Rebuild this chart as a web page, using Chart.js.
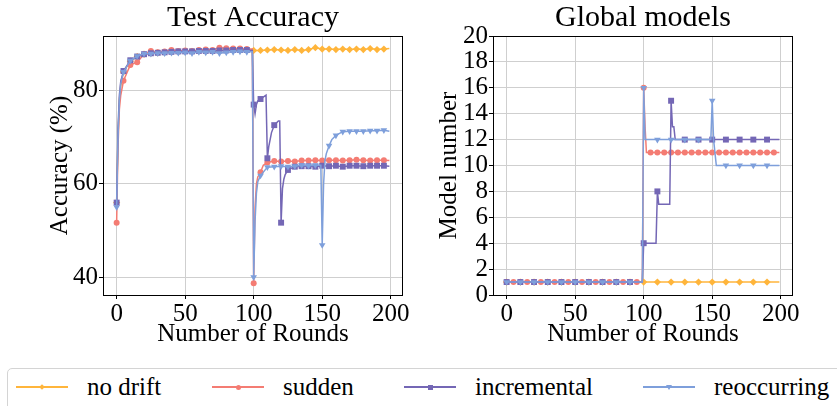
<!DOCTYPE html>
<html><head><meta charset="utf-8">
<script src="https://cdn.jsdelivr.net/npm/chart.js@4.4.0/dist/chart.umd.min.js"></script>
<style>
html,body{margin:0;padding:0;background:#fff;width:837px;height:406px;overflow:hidden;font-family:'Liberation Serif','Times New Roman',serif;}
#c1{position:absolute;left:0;top:0;}
#c2{position:absolute;left:420px;top:0;}
#legendBox{position:absolute;left:7px;top:368px;width:900px;height:60px;border:1px solid #d4d4d4;border-radius:5px;box-sizing:border-box;}
.lgline{position:absolute;height:1.5px;width:52px;}
.lgtext{position:absolute;font-size:25px;line-height:25px;color:#000;white-space:nowrap;}
.mk{position:absolute;}
</style></head>
<body>
<canvas id="c1" width="420" height="360"></canvas>
<canvas id="c2" width="417" height="360"></canvas>
<div id="legendBox"></div>
<script>
// ---------- series meta ----------
const seriesNames = ['no drift', 'sudden', 'incremental', 'reoccurring'];
const seriesColors = ['#FFB53B', '#F47C73', '#7467B5', '#7E9FDB'];

// ---------- Test Accuracy (%) ----------
const accRoundsNoDrift = [0,1,2,3,5,10,15,20,25,30,35,40,45,50,55,60,65,70,75,80,85,90,95,100,105,110,115,120,125,130,135,140,145,150,155,160,165,170,175,180,185,190,195,199];
const accNoDrift = [56,70,78,81,84,86.3,87.3,87.8,88.0,88.1,88.2,88.3,88.3,88.4,88.4,88.5,88.4,88.5,88.6,88.7,88.6,88.7,88.7,88.6,88.6,88.7,88.8,88.7,88.6,88.8,88.6,88.8,89.2,88.9,88.9,88.8,88.9,88.8,88.9,88.8,89.0,88.8,88.9,89.0];

const accRoundsSudden = [0,1,2,3,5,10,15,20,25,30,35,40,45,50,55,60,65,70,75,80,85,90,95,99,100,101,102,103,105,107,110,115,120,125,130,135,140,145,150,155,160,165,170,175,180,185,190,195,199];
const accSudden = [51.7,68,76,79,82.1,85.5,86.1,87.8,88.5,88.2,88.4,88.7,88.5,88.6,88.5,88.7,88.8,88.7,89.2,89.1,89.0,89.0,88.9,88.9,38.7,55,60,61.5,62.5,64.0,64.6,64.9,64.8,64.9,64.8,65.0,65.0,65.1,65.0,65.1,65.1,65.0,65.1,65.2,65.1,65.0,65.1,65.1,65.0];

const accRoundsIncr = [0,1,2,3,5,10,15,20,25,30,35,40,45,50,55,60,65,70,75,80,85,90,95,99,100,101,102,103,105,108,109,110,111,113,115,118,119,120,121,122,123,125,130,135,140,145,150,155,160,165,170,175,180,185,190,195,199];
const accIncr = [56,72,79,82,84.2,86.5,87.3,87.8,88.0,88.1,88.2,88.3,88.4,88.4,88.4,88.5,88.5,88.5,88.6,88.6,88.7,88.7,88.7,88.6,77,75,77,77.8,78.2,78.8,79.0,65.5,68,71,72.6,73.5,73.5,51.7,59,61,62,63.0,63.7,63.8,63.8,63.7,63.9,63.8,63.9,63.7,63.9,63.9,63.8,63.9,63.9,63.9,63.8];

const accRoundsReoc = [0,1,2,3,5,10,15,20,25,30,35,40,45,50,55,60,65,70,75,80,85,90,95,99,100,101,102,103,105,110,115,120,125,130,135,140,145,149,150,151,152,153,155,157,160,165,170,175,180,185,190,195,199];
const accReoc = [55,70,78,81.5,84,86.4,87.4,87.9,87.9,88.0,88.0,88.1,88.1,88.2,88.0,88.3,88.2,88.3,88.0,88.2,88.3,88.4,88.3,88.3,40,52,58,60.5,61.8,63.6,63.7,63.8,63.7,63.8,64.0,63.9,64.0,64.0,46.9,60,65,66.5,68.2,69.5,70.4,71.2,71.3,71.3,71.3,71.4,71.4,71.5,71.3];

// ---------- Global models (model number) ----------
const mnRoundsNoDrift = [0,10,20,30,40,50,60,70,80,90,100,110,120,130,140,150,160,170,180,190,199];
const mnNoDrift = [1,1,1,1,1,1,1,1,1,1,1,1,1,1,1,1,1,1,1,1,1];

const mnRoundsSudden = [0,5,10,15,20,25,30,35,40,45,50,55,60,65,70,75,80,85,90,95,99,100,101,102,105,110,115,120,125,130,135,140,145,150,155,160,165,170,175,180,185,190,195,199];
const mnSudden = [1,1,1,1,1,1,1,1,1,1,1,1,1,1,1,1,1,1,1,1,1,16,13,11,11,11,11,11,11,11,11,11,11,11,11,11,11,11,11,11,11,11,11,11];

const mnRoundsIncr = [0,10,20,30,40,50,60,70,80,90,99,100,109,110,111,119,120,121,122,123,130,140,150,160,170,180,190,199];
const mnIncr = [1,1,1,1,1,1,1,1,1,1,1,4,4,8,7,7,15,13,13,12,12,12,12,12,12,12,12,12];

const mnRoundsReoc = [0,10,20,30,40,50,60,70,80,90,99,100,101,110,120,130,140,149,150,151,152,153,160,170,180,190,199];
const mnReoc = [1,1,1,1,1,1,1,1,1,1,1,16,12,12,12,12,12,12,15,12,11,10,10,10,10,10,10];

// ---------- axes ----------
const xTicks = [0, 50, 100, 150, 200];
const accYTicks = [40, 60, 80];
const mnYTicks = [0, 2, 4, 6, 8, 10, 12, 14, 16, 18, 20];

// ---------- styling ----------
const FONT = "'Liberation Serif', 'Times New Roman', serif";
Chart.defaults.font.family = FONT;
Chart.defaults.color = '#000';
const pointStyles = ['rectRot', 'circle', 'rect', 'triangle'];
const pointRot = [0, 0, 0, 180];
const pointSizes = [3.6, 3, 4.2, 3.8];

function toXY(rounds, vals) { return rounds.map((r, i) => ({x: r, y: vals[i]})); }

function makeDatasets(pairs, markEvery) {
  return pairs.map((p, i) => ({
    label: seriesNames[i],
    data: toXY(p[0], p[1]),
    borderColor: seriesColors[i],
    backgroundColor: seriesColors[i],
    borderWidth: 1.5,
    pointStyle: pointStyles[i],
    rotation: pointRot[i],
    pointBorderWidth: 0,
    pointRadius: (ctx) => (ctx.raw && ctx.raw.x % markEvery[i] === 0 ? pointSizes[i] : 0),
    pointHoverRadius: 0,
    tension: 0,
    order: 3 - i
  }));
}

const framePlugin = {
  id: 'frameTitle',
  afterDraw(chart, args, opts) {
    const {ctx, chartArea: a} = chart;
    ctx.save();
    ctx.strokeStyle = '#000';
    ctx.lineWidth = 1;
    ctx.strokeRect(Math.round(a.left) + 0.5, Math.round(a.top) + 0.5, Math.round(a.right - a.left) - 1, Math.round(a.bottom - a.top));
    ctx.fillStyle = '#000';
    ctx.font = '30px ' + FONT;
    ctx.textAlign = 'center';
    ctx.textBaseline = 'alphabetic';
    ctx.fillText(opts.text, (a.left + a.right) / 2, opts.baseline);
    ctx.restore();
  }
};

function makeOptions(cfg) {
  return {
    responsive: false,
    animation: false,
    events: [],
    layout: {padding: {left: 0, right: cfg.padRight, top: 36, bottom: 0}},
    plugins: {
      legend: {display: false},
      tooltip: {enabled: false},
      frameTitle: {text: cfg.title, baseline: 26}
    },
    scales: {
      x: {
        type: 'linear', min: -9.95, max: 208.95,
        afterBuildTicks: (s) => { s.ticks = xTicks.map(v => ({value: v})); },
        afterFit: (s) => { s.height = 65; },
        grid: {color: '#cfcfcf', lineWidth: 1, tickColor: '#000', tickLength: 4, tickWidth: 1},
        border: {display: false},
        ticks: {font: {size: 25}, padding: 0, maxRotation: 0, autoSkip: false, color: '#000'},
        title: {display: true, text: 'Number of Rounds', font: {size: 25}, padding: {top: 0, bottom: 11}, color: '#000'}
      },
      y: {
        type: 'linear', min: cfg.yMin, max: cfg.yMax,
        afterBuildTicks: (s) => { s.ticks = cfg.yTicks.map(v => ({value: v})); },
        afterFit: (s) => { s.width = cfg.yWidth; },
        grid: {color: '#cfcfcf', lineWidth: 1, tickColor: '#000', tickLength: 4, tickWidth: 1},
        border: {display: false},
        ticks: {font: {size: 25}, padding: 1, autoSkip: false, color: '#000'},
        title: {display: true, text: cfg.yLabel, font: {size: 25}, padding: {top: cfg.yTitlePad, bottom: 0}, color: '#000'}
      }
    }
  };
}

new Chart(document.getElementById('c1'), {
  type: 'line',
  data: {datasets: makeDatasets([
    [accRoundsNoDrift, accNoDrift],
    [accRoundsSudden, accSudden],
    [accRoundsIncr, accIncr],
    [accRoundsReoc, accReoc]
  ], [5, 5, 5, 5])},
  options: makeOptions({title: 'Test Accuracy', yLabel: 'Accuracy (%)', yMin: 36.2, yMax: 91.7, yTicks: accYTicks, yWidth: 103, padRight: 17, yTitlePad: 45}),
  plugins: [framePlugin]
});

new Chart(document.getElementById('c2'), {
  type: 'line',
  data: {datasets: makeDatasets([
    [mnRoundsNoDrift, mnNoDrift],
    [mnRoundsSudden, mnSudden],
    [mnRoundsIncr, mnIncr],
    [mnRoundsReoc, mnReoc]
  ], [10, 5, 10, 10])},
  options: makeOptions({title: 'Global models', yLabel: 'Model number', yMin: 0, yMax: 20, yTicks: mnYTicks, yWidth: 73, padRight: 44, yTitlePad: 14}),
  plugins: [framePlugin]
});

// ---------- legend (HTML text) ----------
const legendLineX = [16, 212, 404, 643];
const legendY = 387;
seriesNames.forEach((name, i) => {
  const c = seriesColors[i];
  const ln = document.createElement('div');
  ln.className = 'lgline';
  ln.style.left = legendLineX[i] + 'px';
  ln.style.top = (legendY - 0.75) + 'px';
  ln.style.background = c;
  document.body.appendChild(ln);
  const mk = document.createElement('div');
  mk.className = 'mk';
  const cx = legendLineX[i] + 26;
  if (i === 0) { mk.style.cssText = `left:${cx-2}px;top:${legendY-2}px;width:4px;height:4px;background:${c};transform:rotate(45deg);`; }
  else if (i === 1) { mk.style.cssText = `left:${cx-2.5}px;top:${legendY-2.5}px;width:5px;height:5px;background:${c};border-radius:50%;`; }
  else if (i === 2) { mk.style.cssText = `left:${cx-2.5}px;top:${legendY-2.5}px;width:5px;height:5px;background:${c};`; }
  else { mk.style.cssText = `left:${cx-3}px;top:${legendY-2.5}px;width:0;height:0;border-left:3px solid transparent;border-right:3px solid transparent;border-top:5px solid ${c};`; }
  mk.className = 'mk';
  document.body.appendChild(mk);
  const tx = document.createElement('div');
  tx.className = 'lgtext';
  tx.style.left = (legendLineX[i] + 71) + 'px';
  tx.style.top = '374px';
  tx.textContent = name;
  document.body.appendChild(tx);
});
</script>
</body></html>
